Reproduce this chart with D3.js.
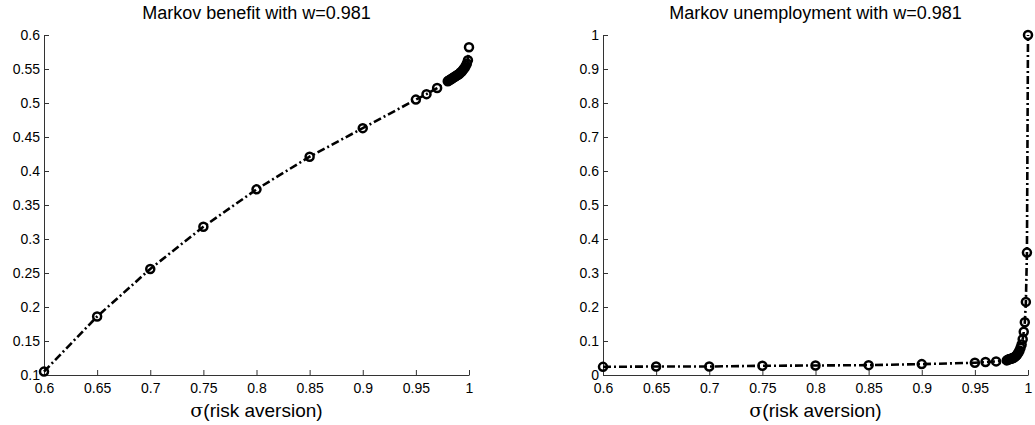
<!DOCTYPE html>
<html>
<head>
<meta charset="utf-8">
<script src="https://cdn.jsdelivr.net/npm/d3@7"></script>
<style>
  body { margin: 0; background: #fff; }
  svg { display: block; font-family: "Liberation Sans", Arial, sans-serif; }
</style>
</head>
<body>
<svg id="viz"></svg>
<script>
// risk aversion grid (x)
const sigma = [0.6, 0.65, 0.7, 0.75, 0.8, 0.85, 0.9, 0.95, 0.96, 0.97, 0.98,
  0.981, 0.982, 0.983, 0.984, 0.985, 0.986, 0.987, 0.988, 0.989, 0.99,
  0.991, 0.992, 0.993, 0.994, 0.995, 0.996, 0.997, 0.998, 0.999, 1.0];

// left panel: Markov benefit
const benefit = [0.105, 0.186, 0.256, 0.318, 0.373, 0.421, 0.463, 0.505, 0.513, 0.522, 0.532,
  0.533, 0.534, 0.535, 0.536, 0.537, 0.538, 0.539, 0.540, 0.541, 0.542,
  0.543, 0.545, 0.546, 0.548, 0.550, 0.552, 0.555, 0.558, 0.563, 0.582];

// right panel: Markov unemployment
const unemployment = [0.024, 0.025, 0.025, 0.027, 0.028, 0.029, 0.032, 0.036, 0.038, 0.040, 0.043,
  0.045, 0.046, 0.047, 0.048, 0.049, 0.050, 0.052, 0.054, 0.057, 0.061,
  0.066, 0.072, 0.080, 0.090, 0.105, 0.127, 0.155, 0.215, 0.36, 1.0];

const xTicks = [0.6, 0.65, 0.7, 0.75, 0.8, 0.85, 0.9, 0.95, 1];
const benefitTicks = [0.1, 0.15, 0.2, 0.25, 0.3, 0.35, 0.4, 0.45, 0.5, 0.55, 0.6];
const unempTicks = [0, 0.1, 0.2, 0.3, 0.4, 0.5, 0.6, 0.7, 0.8, 0.9, 1];

const width = 1035, height = 425;
const svg = d3.select("#viz").attr("width", width).attr("height", height);

function drawPanel(left, title, values, yDomain, yTicks) {
  const x = d3.scaleLinear().domain([0.6, 1]).range([left, left + 425]);
  const y = d3.scaleLinear().domain(yDomain).range([375, 35]);
  const fmt = d3.format("~g");

  // axes (MATLAB style: ticks inward, no box)
  const xa = svg.append("g")
    .attr("transform", `translate(0, 375)`)
    .call(d3.axisBottom(x).tickValues(xTicks).tickFormat(fmt)
      .tickSizeInner(-5).tickSizeOuter(0).tickPadding(8));
  const ya = svg.append("g")
    .attr("transform", `translate(${left}, 0)`)
    .call(d3.axisLeft(y).tickValues(yTicks).tickFormat(fmt)
      .tickSizeInner(-5).tickSizeOuter(0).tickPadding(4));
  [xa, ya].forEach(a => {
    a.selectAll("path, line").attr("stroke", "#333");
    a.selectAll("text").attr("fill", "#000").style("font-size", "14px")
      .style("font-family", "'Liberation Sans', Arial, sans-serif");
  });

  const pts = sigma.map((s, i) => [s, values[i]]);

  // dash-dot line
  svg.append("path")
    .datum(pts)
    .attr("fill", "none")
    .attr("stroke", "#000")
    .attr("stroke-width", 2.6)
    .attr("stroke-dasharray", "8,3,2,3")
    .attr("d", d3.line().x(d => x(d[0])).y(d => y(d[1])));

  // open circle markers
  svg.append("g").selectAll("circle")
    .data(pts)
    .enter().append("circle")
    .attr("cx", d => x(d[0]))
    .attr("cy", d => y(d[1]))
    .attr("r", 4)
    .attr("fill", "none")
    .attr("stroke", "#000")
    .attr("stroke-width", 2.5);

  svg.append("text")
    .attr("x", left + 212.5).attr("y", 19)
    .attr("text-anchor", "middle")
    .style("font-size", "18px")
    .text(title);

  const xl = svg.append("text")
    .attr("x", left + 212.5).attr("y", 417)
    .attr("text-anchor", "middle")
    .style("font-size", "19px");
  xl.append("tspan").style("font-family", "'DejaVu Serif', 'Liberation Serif', serif").text("σ");
  xl.append("tspan").text("(risk aversion)");
}

drawPanel(44, "Markov benefit with w=0.981", benefit, [0.1, 0.6], benefitTicks);
drawPanel(603, "Markov unemployment with w=0.981", unemployment, [0, 1], unempTicks);
</script>
</body>
</html>
